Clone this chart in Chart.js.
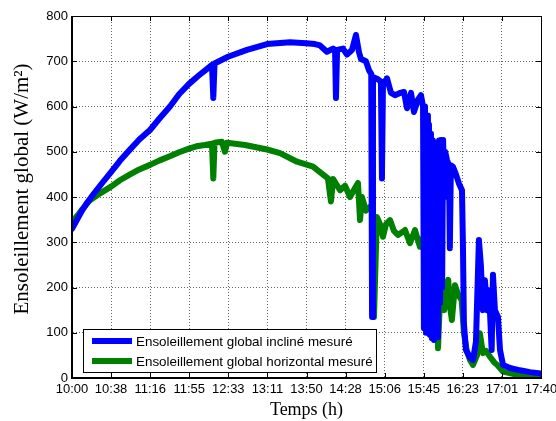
<!DOCTYPE html>
<html>
<head>
<meta charset="utf-8">
<script src="https://cdn.jsdelivr.net/npm/chart.js@4"></script>
<style>
  html, body { margin: 0; padding: 0; background: #fff; }
  #wrap { width: 556px; height: 421px; }
</style>
</head>
<body>
<div id="wrap"><canvas id="chart"></canvas></div>
<script>
// time axis: minutes after 10:00
const tickLabels = ['10:00', '10:38', '11:16', '11:55', '12:33', '13:11', '13:50', '14:28', '15:06', '15:45', '16:23', '17:01', '17:40'];
const yTicks = [0, 100, 200, 300, 400, 500, 600, 700, 800];
const yTitle = 'Ensoleillement global (W/m²)';

const inclineLabel = 'Ensoleillement global incliné mesuré';
const inclineTimes = [0, 5, 9.8, 15, 20.6, 30, 38.3, 47, 56.9, 66, 76.5, 86, 96.1, 105, 114.8, 124, 133.4, 137.3, 138.6, 139.8, 153, 171.6, 191.3, 213.8, 229.5, 238.3, 243.2, 250, 256, 258, 258.9, 260, 265.8, 269.7, 274.6, 278.5, 281.5, 283.4, 288.3, 291.3, 293.5, 294.3, 295.2, 300.1, 303, 304, 305, 309, 312.9, 316.8, 321.7, 325.6, 328.6, 332.5, 335.4, 339.3, 342.3, 344.3,
  345.2, 346.2, 347.2, 348.2, 349.1, 350.1, 351.1, 352.1, 353, 354, 355, 356, 357, 358, 359, 360, 361, 362, 363, 364, 365, 366, 367.8, 369.7, 370.6, 371.6, 373.6, 376.6, 379.5, 382.5, 383.4, 384.4, 386.4, 390.3, 393.3, 396.2, 399.1, 401, 403, 405, 407, 409, 411.6, 412.9, 414.8, 417.8, 419.8, 422.7, 429.6, 439.4, 449.2, 460];
const inclineValues = [330, 350, 370, 388, 405, 432, 455, 480, 505, 527, 548, 574, 600, 627, 650, 668, 685, 692, 619, 695, 710, 725, 738, 742, 740, 738, 735, 721, 728, 725, 619, 725, 728, 715, 725, 758, 720, 705, 700, 680, 672, 135, 665, 660, 655, 441, 650, 662, 630, 625, 630, 632, 596, 630, 588, 615, 625, 600,
  110, 600, 100, 580, 113, 560, 95, 540, 88, 525, 84, 520, 120, 520, 90, 525, 166, 526, 200, 526, 400, 500, 482, 470, 287, 470, 467, 450, 430, 415, 300, 120, 62, 45, 40, 80, 305, 250, 150, 216, 150, 194, 62, 228, 150, 135, 62, 29, 22, 17, 13, 10];

const horizLabel = 'Ensoleillement global horizontal mesuré';
const horizTimes = [0, 5, 9.8, 17.7, 27.5, 38.3, 47, 57, 66, 76.5, 86, 96, 105, 114.8, 122, 130.4, 137.3, 138.6, 139.8, 147, 150, 152, 169.7, 191.3, 204, 220.7, 236.4, 243.2, 251, 254, 256, 262.9, 267.8, 272.7, 277.6, 280.5, 282.5, 284.4, 288.3, 292.2, 295.2, 296.2, 299, 302.1, 305, 308, 311.9, 315.8, 319.7, 323.7, 326.6, 331.5, 336.4, 341.3, 344.3,
  346.2, 348.2, 350, 352, 354, 356, 358, 359, 361, 363, 365, 367, 369, 370.6, 372.6, 375.6, 378.6, 382.2, 384.4, 387, 390.3, 393.3, 397.2, 400, 403, 406, 410, 414, 417, 422.7, 434.5, 460];
const horizValues = [345, 358, 372, 393, 408, 423, 437, 450, 461, 471, 481, 490, 499, 507, 512, 515, 518, 441, 520, 522, 500, 520, 515, 505, 497, 478, 467, 455, 441, 390, 440, 415, 425, 400, 420, 431, 349, 400, 370, 378, 370, 135, 356, 340, 312, 340, 349, 325, 316, 322, 327, 298, 327, 290, 309,
  315, 121, 270, 150, 276, 128, 200, 66, 180, 217, 150, 200, 217, 160, 128, 205, 185, 172, 100, 62, 40, 29, 50, 99, 55, 60, 47, 35, 29, 14, 8, 3];

const tickMinutes = tickLabels.map((_, i) => i * 460 / (tickLabels.length - 1));

function toPoints(times, values) {
    return times.map((t, i) => ({ x: t, y: values[i] }));
}

// MATLAB-like box, inner tick marks, y title and legend inside the plot
const boxPlugin = {
    id: 'boxPlugin',
    afterDraw(chart) {
        const { ctx, chartArea: a } = chart;
        const xs = chart.scales.x, ys = chart.scales.y;
        ctx.save();
        ctx.strokeStyle = '#000';
        ctx.lineWidth = 1;
        ctx.strokeRect(a.left + 0.5, a.top + 0.5, a.right - a.left, a.bottom - a.top);
        ctx.beginPath();
        tickMinutes.forEach(v => {
            const x = Math.round(xs.getPixelForValue(v)) + 0.5;
            ctx.moveTo(x, a.bottom); ctx.lineTo(x, a.bottom - 5);
            ctx.moveTo(x, a.top); ctx.lineTo(x, a.top + 5);
        });
        yTicks.forEach(v => {
            const y = Math.round(ys.getPixelForValue(v)) + 0.5;
            ctx.moveTo(a.left, y); ctx.lineTo(a.left + 5, y);
            ctx.moveTo(a.right, y); ctx.lineTo(a.right - 5, y);
        });
        ctx.stroke();
        ctx.lineWidth = 2;
        ctx.beginPath();
        ctx.moveTo(a.left, a.top); ctx.lineTo(a.left, a.bottom); ctx.lineTo(a.right, a.bottom);
        ctx.stroke();

        // y axis title
        ctx.save();
        ctx.translate(22, 189);
        ctx.rotate(-Math.PI / 2);
        ctx.fillStyle = '#000';
        ctx.font = '21px "Liberation Serif", "Times New Roman", serif';
        ctx.textAlign = 'center';
        ctx.textBaseline = 'middle';
        ctx.fillText(yTitle, 0, 0);
        ctx.restore();

        // legend
        ctx.lineWidth = 1;
        const lx = a.left + 11, ly = a.bottom - 49, lw = 293, lh = 43;
        ctx.fillStyle = '#fff';
        ctx.fillRect(lx, ly, lw, lh);
        ctx.strokeRect(lx + 0.5, ly + 0.5, lw, lh);
        ctx.font = '13.4px "Liberation Sans", Arial, sans-serif';
        ctx.textBaseline = 'middle';
        chart.data.datasets.forEach((ds, i) => {
            const y = ly + 12 + i * 20;
            ctx.strokeStyle = ds.borderColor;
            ctx.lineWidth = 6;
            ctx.beginPath();
            ctx.moveTo(lx + 9, y);
            ctx.lineTo(lx + 49, y);
            ctx.stroke();
            ctx.fillStyle = '#000';
            ctx.fillText(ds.label, lx + 53, y + 1);
        });
        ctx.restore();
    }
};

new Chart(document.getElementById('chart'), {
    type: 'line',
    data: {
        datasets: [{
            label: inclineLabel,
            data: toPoints(inclineTimes, inclineValues),
            borderColor: '#0000ff',
            borderWidth: 6,
            pointRadius: 0,
            tension: 0,
            borderJoinStyle: 'round',
            borderCapStyle: 'round'
        }, {
            label: horizLabel,
            data: toPoints(horizTimes, horizValues),
            borderColor: '#008000',
            borderWidth: 6,
            pointRadius: 0,
            tension: 0,
            borderJoinStyle: 'round',
            borderCapStyle: 'round'
        }]
    },
    options: {
        responsive: true,
        maintainAspectRatio: false,
        animation: false,
        layout: { padding: { top: 16, right: 15, left: 0, bottom: 0 } },
        plugins: {
            legend: { display: false },
            tooltip: { enabled: false }
        },
        scales: {
            x: {
                type: 'linear',
                min: 0,
                max: 460,
                afterBuildTicks: s => { s.ticks = tickMinutes.map(v => ({ value: v })); },
                afterFit: s => { s.height = 43; s.paddingLeft = 0; s.paddingRight = 0; },
                ticks: {
                    autoSkip: false,
                    maxRotation: 0,
                    padding: 4,
                    color: '#000',
                    font: { family: '"Liberation Sans", Arial, sans-serif', size: 13 },
                    callback: (v, i) => tickLabels[i]
                },
                grid: { color: '#666', drawTicks: false },
                border: { display: true, color: '#000', width: 1, dash: [1, 2] },
                title: {
                    display: true,
                    text: 'Temps (h)',
                    color: '#000',
                    padding: { top: 3, bottom: 0 },
                    font: { family: '"Liberation Serif", "Times New Roman", serif', size: 18 }
                }
            },
            y: {
                min: 0,
                max: 800,
                afterBuildTicks: s => { s.ticks = yTicks.map(v => ({ value: v })); },
                afterFit: s => { s.width = 72; s.paddingTop = 0; s.paddingBottom = 0; },
                ticks: {
                    padding: 4,
                    color: '#000',
                    font: { family: '"Liberation Sans", Arial, sans-serif', size: 13 }
                },
                grid: { color: '#666', drawTicks: false },
                border: { display: true, color: '#000', width: 1, dash: [1, 2] },
                title: { display: false }
            }
        }
    },
    plugins: [boxPlugin]
});
</script>
</body>
</html>
